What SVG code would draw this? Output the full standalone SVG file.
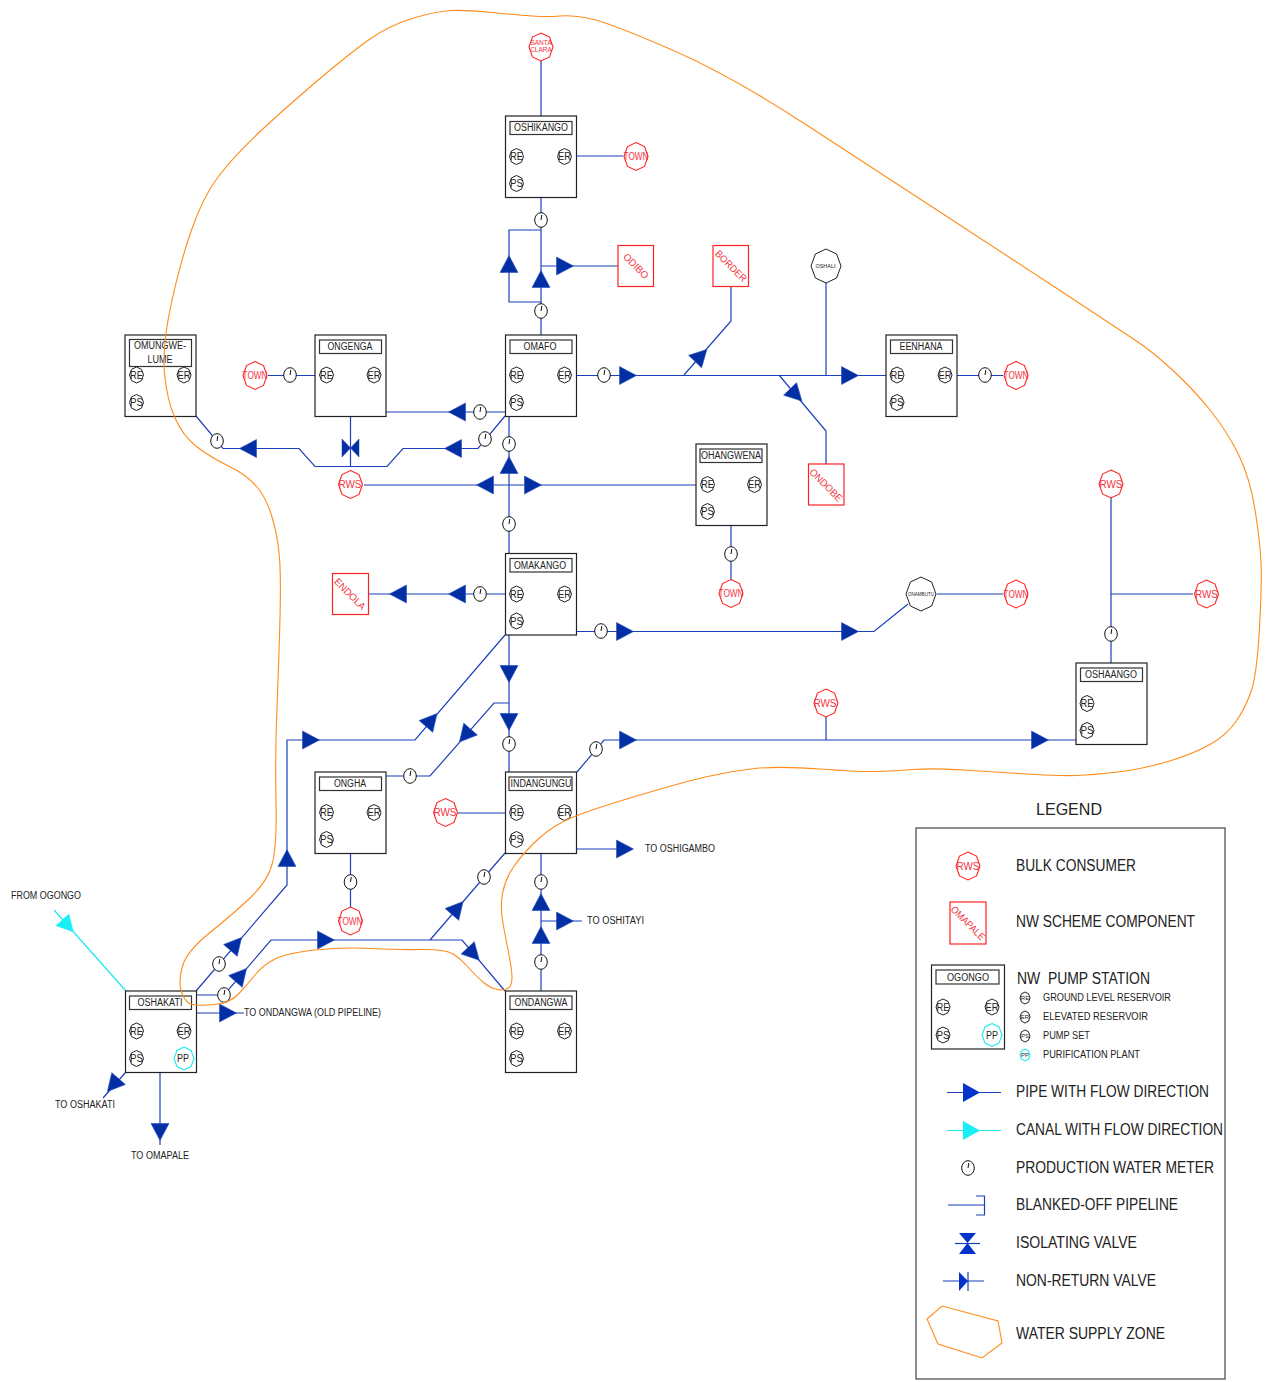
<svg xmlns="http://www.w3.org/2000/svg" xmlns:xlink="http://www.w3.org/1999/xlink" width="1271" height="1382" viewBox="0 0 1271 1382">
<style>
text{font-family:"Liberation Sans",Arial,sans-serif;font-size:10px;fill:#222;text-anchor:middle}
.l{text-anchor:start}
.lg{font-size:16px}
.sm{font-size:10.5px}
.r{fill:#f2333f}
.b{fill:#fff;stroke:#222;stroke-width:1.2}
.t{fill:#fff;stroke:#333;stroke-width:1.2}
.s{fill:none;stroke:#f22;stroke-width:1.2}
.p{fill:none;stroke:#1c3fbb;stroke-width:1.2}
.c{fill:none;stroke:#18e8f0;stroke-width:1.2}
.o{fill:#fff;stroke:#222;stroke-width:1}
.rd{fill:#fff;stroke:#f22;stroke-width:1.1}
.cy{fill:#fff;stroke:#18e8f0;stroke-width:1.1}
.z{fill:none;stroke:#ff8c1a;stroke-width:1.1}
.m{fill:#fff;stroke:#111;stroke-width:1}
</style>
<defs>
<polygon id="h7" points="0,-8 5,-5.6 7,0 5,5.6 0,8 -5,5.6 -7,0 -5,-5.6"/>
<polygon id="h12" points="0,-14 8.5,-9.9 12,0 8.5,9.9 0,14 -8.5,9.9 -12,0 -8.5,-9.9"/>
<polygon id="h10" points="0,-11.500 7,-8.100 10,0 7,8.100 0,11.500 -7,8.100 -10,0 -7,-8.100"/>
<polygon id="h15" points="0,-17 10.600,-12 15,0 10.600,12 0,17 -10.600,12 -15,0 -10.600,-12"/>
<polygon id="h5" points="0,-6 3.500,-4.200 5,0 3.500,4.200 0,6 -3.500,4.200 -5,0 -3.500,-4.200"/>
<polygon id="ar" points="-8.500,-9 8.500,0 -8.500,9" fill="#022fa3" stroke="#2a4fc0" stroke-width="0.6"/>
<polygon id="arc" points="-8.500,-9 8.500,0 -8.500,9" fill="#18f0f5"/>
<g id="mt"><ellipse class="m" rx="6.300" ry="7.300"/><path d="M0,0 L0.800,-5" stroke="#111" stroke-width="1" fill="none"/></g>
</defs>
<g id="connectors">
<path class="p" d="M541,60V116M577,156H623M541,197V335M541,230H509V302H541M541,266H618"/>
<path class="p" d="M731,287V321L684,375M826,283V375M577,375.500H886M779,375L826,431V464M957,375.500H1003M268,375.500H315M386,412H505"/>
<path class="p" d="M505,416L478,448.500H403L387,466.500H315L299,448.500H223L196,416M350.500,416V466M364,485H696M509,416V553M731,526V580M369,594H505"/>
<path class="p" d="M577,631.500H874L908,604M937,594H1003M1111,497V663M1111,594H1193M509,635V772M505,635L415,740H287V885L196,991"/>
<path class="p" d="M509,703H494L430,776H386M577,772L604,740H1076M826,716V740M458,813H505M577,849H632M350.500,853V908"/>
<path class="p" d="M505,853L430,940M196,995H224L271,940H462L505,991M196,1013H244M541,991V853M541,921H582M160,1072V1145M126,1072L103,1098"/>
<path class="c" d="M126,991L54,910"/>
<use xlink:href="#ar" href="#ar" transform="translate(509,264) rotate(-90)"/>
<use xlink:href="#ar" href="#ar" transform="translate(541,279) rotate(-90)"/>
<use xlink:href="#ar" href="#ar" transform="translate(565,266)"/>
<use xlink:href="#ar" href="#ar" transform="translate(701,355.500) rotate(-46)"/>
<use xlink:href="#ar" href="#ar" transform="translate(628,375.500)"/>
<use xlink:href="#ar" href="#ar" transform="translate(850,375.500)"/>
<use xlink:href="#ar" href="#ar" transform="translate(796,395) rotate(46)"/>
<use xlink:href="#ar" href="#ar" transform="translate(457,412) rotate(180)"/>
<use xlink:href="#ar" href="#ar" transform="translate(453,448.500) rotate(180)"/>
<use xlink:href="#ar" href="#ar" transform="translate(248,448.500) rotate(180)"/>
<use xlink:href="#ar" href="#ar" transform="translate(485,485) rotate(180)"/>
<use xlink:href="#ar" href="#ar" transform="translate(533,485)"/>
<use xlink:href="#ar" href="#ar" transform="translate(509,465) rotate(-90)"/>
<use xlink:href="#ar" href="#ar" transform="translate(457,594) rotate(180)"/>
<use xlink:href="#ar" href="#ar" transform="translate(398,594) rotate(180)"/>
<use xlink:href="#ar" href="#ar" transform="translate(625,631.500)"/>
<use xlink:href="#ar" href="#ar" transform="translate(850,631.500)"/>
<use xlink:href="#ar" href="#ar" transform="translate(509,674) rotate(90)"/>
<use xlink:href="#ar" href="#ar" transform="translate(509,722) rotate(90)"/>
<use xlink:href="#ar" href="#ar" transform="translate(431.500,720) rotate(-49)"/>
<use xlink:href="#ar" href="#ar" transform="translate(311,740)"/>
<use xlink:href="#ar" href="#ar" transform="translate(465,735.500) rotate(131)"/>
<use xlink:href="#ar" href="#ar" transform="translate(628,740)"/>
<use xlink:href="#ar" href="#ar" transform="translate(1040,740)"/>
<use xlink:href="#ar" href="#ar" transform="translate(625,849)"/>
<use xlink:href="#ar" href="#ar" transform="translate(457.500,908) rotate(-49)"/>
<use xlink:href="#ar" href="#ar" transform="translate(287,858) rotate(-90)"/>
<use xlink:href="#ar" href="#ar" transform="translate(236,944) rotate(-49)"/>
<use xlink:href="#ar" href="#ar" transform="translate(241,975) rotate(-49)"/>
<use xlink:href="#ar" href="#ar" transform="translate(326,940)"/>
<use xlink:href="#ar" href="#ar" transform="translate(473.500,954) rotate(47)"/>
<use xlink:href="#ar" href="#ar" transform="translate(228,1013)"/>
<use xlink:href="#ar" href="#ar" transform="translate(541,935) rotate(-90)"/>
<use xlink:href="#ar" href="#ar" transform="translate(541,902) rotate(-90)"/>
<use xlink:href="#ar" href="#ar" transform="translate(565,921)"/>
<use xlink:href="#ar" href="#ar" transform="translate(160,1132) rotate(90)"/>
<use xlink:href="#ar" href="#ar" transform="translate(113,1085) rotate(131)"/>
<use xlink:href="#arc" href="#arc" transform="translate(68,926) rotate(48)"/>
<g id="valve"><polygon points="342,439 350.500,448 342,457" fill="#022fa3" stroke="#2a4fc0" stroke-width="0.6"/><polygon points="359,439 350.500,448 359,457" fill="#022fa3" stroke="#2a4fc0" stroke-width="0.6"/></g>
<use xlink:href="#mt" href="#mt" x="541" y="220"/>
<use xlink:href="#mt" href="#mt" x="541" y="311"/>
<use xlink:href="#mt" href="#mt" x="604" y="375"/>
<use xlink:href="#mt" href="#mt" x="985" y="375"/>
<use xlink:href="#mt" href="#mt" x="290" y="375"/>
<use xlink:href="#mt" href="#mt" x="480" y="412"/>
<use xlink:href="#mt" href="#mt" x="485" y="439"/>
<use xlink:href="#mt" href="#mt" x="217" y="441"/>
<use xlink:href="#mt" href="#mt" x="509" y="444"/>
<use xlink:href="#mt" href="#mt" x="509" y="524"/>
<use xlink:href="#mt" href="#mt" x="731" y="554"/>
<use xlink:href="#mt" href="#mt" x="480" y="594"/>
<use xlink:href="#mt" href="#mt" x="601" y="631"/>
<use xlink:href="#mt" href="#mt" x="1111" y="634"/>
<use xlink:href="#mt" href="#mt" x="509" y="744"/>
<use xlink:href="#mt" href="#mt" x="596" y="749"/>
<use xlink:href="#mt" href="#mt" x="410" y="776"/>
<use xlink:href="#mt" href="#mt" x="484" y="877"/>
<use xlink:href="#mt" href="#mt" x="350.500" y="882"/>
<use xlink:href="#mt" href="#mt" x="541" y="882"/>
<use xlink:href="#mt" href="#mt" x="541" y="962"/>
<use xlink:href="#mt" href="#mt" x="219" y="964"/>
<use xlink:href="#mt" href="#mt" x="224" y="995"/>
</g>
<g id="node-oshikango"><rect class="b" x="505.500" y="116" width="71" height="81.500"/><rect class="t" x="510" y="121.500" width="62" height="13"/><text x="541" y="131" textLength="54" lengthAdjust="spacingAndGlyphs">OSHIKANGO</text><use href="#h7" class="o" x="516.500" y="156.500"/><text x="516.500" y="160" textLength="13" lengthAdjust="spacingAndGlyphs">RE</text><use href="#h7" class="o" x="564.500" y="156.500"/><text x="564.500" y="160" textLength="13" lengthAdjust="spacingAndGlyphs">ER</text><use href="#h7" class="o" x="516.500" y="183.500"/><text x="516.500" y="187" textLength="13" lengthAdjust="spacingAndGlyphs">PS</text></g>
<g id="node-omafo"><rect class="b" x="505.500" y="335" width="71" height="81.500"/><rect class="t" x="510" y="340" width="62" height="13.500"/><text x="540" y="350" textLength="33" lengthAdjust="spacingAndGlyphs">OMAFO</text><use href="#h7" class="o" x="516.500" y="375"/><text x="516.500" y="378.500" textLength="13" lengthAdjust="spacingAndGlyphs">RE</text><use href="#h7" class="o" x="564.500" y="375"/><text x="564.500" y="378.500" textLength="13" lengthAdjust="spacingAndGlyphs">ER</text><use href="#h7" class="o" x="516.500" y="402.500"/><text x="516.500" y="406" textLength="13" lengthAdjust="spacingAndGlyphs">PS</text></g>
<g id="node-omungwe"><rect class="b" x="125" y="335" width="71" height="81.500"/><rect class="t" x="129.500" y="339.500" width="62" height="27"/><text x="160" y="349" textLength="52" lengthAdjust="spacingAndGlyphs">OMUNGWE-</text><text x="160" y="363" textLength="25" lengthAdjust="spacingAndGlyphs">LUME</text><use href="#h7" class="o" x="136.500" y="375"/><text x="136.500" y="378.500" textLength="13" lengthAdjust="spacingAndGlyphs">RE</text><use href="#h7" class="o" x="184" y="375"/><text x="184" y="378.500" textLength="13" lengthAdjust="spacingAndGlyphs">ER</text><use href="#h7" class="o" x="136.500" y="402.500"/><text x="136.500" y="406" textLength="13" lengthAdjust="spacingAndGlyphs">PS</text></g>
<g id="node-ongenga"><rect class="b" x="315" y="335" width="71" height="81.500"/><rect class="t" x="319.500" y="340" width="62" height="13.500"/><text x="350" y="350" textLength="45" lengthAdjust="spacingAndGlyphs">ONGENGA</text><use href="#h7" class="o" x="326.500" y="375"/><text x="326.500" y="378.500" textLength="13" lengthAdjust="spacingAndGlyphs">RE</text><use href="#h7" class="o" x="374" y="375"/><text x="374" y="378.500" textLength="13" lengthAdjust="spacingAndGlyphs">ER</text></g>
<g id="node-eenhana"><rect class="b" x="886" y="335" width="71" height="81.500"/><rect class="t" x="890.500" y="340" width="62" height="13.500"/><text x="921" y="350" textLength="43" lengthAdjust="spacingAndGlyphs">EENHANA</text><use href="#h7" class="o" x="897" y="375"/><text x="897" y="378.500" textLength="13" lengthAdjust="spacingAndGlyphs">RE</text><use href="#h7" class="o" x="945" y="375"/><text x="945" y="378.500" textLength="13" lengthAdjust="spacingAndGlyphs">ER</text><use href="#h7" class="o" x="897" y="402.500"/><text x="897" y="406" textLength="13" lengthAdjust="spacingAndGlyphs">PS</text></g>
<g id="node-ohangwena"><rect class="b" x="696" y="444" width="71" height="81.500"/><rect class="t" x="700" y="449" width="62" height="13.500"/><text x="731" y="459" textLength="60" lengthAdjust="spacingAndGlyphs">OHANGWENA</text><use href="#h7" class="o" x="707.500" y="484.500"/><text x="707.500" y="488" textLength="13" lengthAdjust="spacingAndGlyphs">RE</text><use href="#h7" class="o" x="754.500" y="484.500"/><text x="754.500" y="488" textLength="13" lengthAdjust="spacingAndGlyphs">ER</text><use href="#h7" class="o" x="707.500" y="511.500"/><text x="707.500" y="515" textLength="13" lengthAdjust="spacingAndGlyphs">PS</text></g>
<g id="node-omakango"><rect class="b" x="505.500" y="553.500" width="71" height="81.500"/><rect class="t" x="510" y="558.500" width="62" height="13.500"/><text x="540" y="569" textLength="52" lengthAdjust="spacingAndGlyphs">OMAKANGO</text><use href="#h7" class="o" x="516.500" y="594"/><text x="516.500" y="597.500" textLength="13" lengthAdjust="spacingAndGlyphs">RE</text><use href="#h7" class="o" x="564.500" y="594"/><text x="564.500" y="597.500" textLength="13" lengthAdjust="spacingAndGlyphs">ER</text><use href="#h7" class="o" x="516.500" y="621"/><text x="516.500" y="624.500" textLength="13" lengthAdjust="spacingAndGlyphs">PS</text></g>
<g id="node-oshaango"><rect class="b" x="1076" y="663" width="71" height="81.500"/><rect class="t" x="1080.500" y="668" width="62" height="13.500"/><text x="1111" y="678" textLength="52" lengthAdjust="spacingAndGlyphs">OSHAANGO</text><use href="#h7" class="o" x="1087" y="703.500"/><text x="1087" y="707" textLength="13" lengthAdjust="spacingAndGlyphs">RE</text><use href="#h7" class="o" x="1087" y="730.500"/><text x="1087" y="734" textLength="13" lengthAdjust="spacingAndGlyphs">PS</text></g>
<g id="node-ongha"><rect class="b" x="315" y="772" width="71" height="81.500"/><rect class="t" x="319.500" y="777" width="62" height="13.500"/><text x="350" y="787" textLength="32" lengthAdjust="spacingAndGlyphs">ONGHA</text><use href="#h7" class="o" x="326.500" y="812.500"/><text x="326.500" y="816" textLength="13" lengthAdjust="spacingAndGlyphs">RE</text><use href="#h7" class="o" x="374" y="812.500"/><text x="374" y="816" textLength="13" lengthAdjust="spacingAndGlyphs">ER</text><use href="#h7" class="o" x="326.500" y="839.500"/><text x="326.500" y="843" textLength="13" lengthAdjust="spacingAndGlyphs">PS</text></g>
<g id="node-indangungu"><rect class="b" x="505.500" y="772" width="71" height="81.500"/><rect class="t" x="509" y="777" width="63" height="13.500"/><text x="541" y="787" textLength="61" lengthAdjust="spacingAndGlyphs">INDANGUNGU</text><use href="#h7" class="o" x="516.500" y="812.500"/><text x="516.500" y="816" textLength="13" lengthAdjust="spacingAndGlyphs">RE</text><use href="#h7" class="o" x="564.500" y="812.500"/><text x="564.500" y="816" textLength="13" lengthAdjust="spacingAndGlyphs">ER</text><use href="#h7" class="o" x="516.500" y="839.500"/><text x="516.500" y="843" textLength="13" lengthAdjust="spacingAndGlyphs">PS</text></g>
<g id="node-oshakati"><rect class="b" x="125.500" y="991" width="71" height="81.500"/><rect class="t" x="129.500" y="996" width="62" height="13.500"/><text x="160" y="1006" textLength="45" lengthAdjust="spacingAndGlyphs">OSHAKATI</text><use href="#h7" class="o" x="136.500" y="1031"/><text x="136.500" y="1034.500" textLength="13" lengthAdjust="spacingAndGlyphs">RE</text><use href="#h7" class="o" x="184" y="1031"/><text x="184" y="1034.500" textLength="13" lengthAdjust="spacingAndGlyphs">ER</text><use href="#h7" class="o" x="136.500" y="1058.500"/><text x="136.500" y="1062" textLength="13" lengthAdjust="spacingAndGlyphs">PS</text><use href="#h10" class="cy" x="184" y="1058.500"/><text x="183" y="1062" textLength="12" lengthAdjust="spacingAndGlyphs">PP</text></g>
<g id="node-ondangwa"><rect class="b" x="505.500" y="991" width="71" height="81.500"/><rect class="t" x="510" y="996" width="62" height="13.500"/><text x="541" y="1006" textLength="53" lengthAdjust="spacingAndGlyphs">ONDANGWA</text><use href="#h7" class="o" x="516.500" y="1031"/><text x="516.500" y="1034.500" textLength="13" lengthAdjust="spacingAndGlyphs">RE</text><use href="#h7" class="o" x="564.500" y="1031"/><text x="564.500" y="1034.500" textLength="13" lengthAdjust="spacingAndGlyphs">ER</text><use href="#h7" class="o" x="516.500" y="1058.500"/><text x="516.500" y="1062" textLength="13" lengthAdjust="spacingAndGlyphs">PS</text></g>
<g id="node-santa-clara"><use href="#h12" class="rd" x="541" y="47"/><text class="r" style="font-size:6.500px" x="541" y="45">SANTA</text><text class="r" style="font-size:6.500px" x="541" y="52">CLARA</text></g>
<g id="node-town1"><use href="#h12" class="rd" x="636" y="156.500"/><text class="r" x="636" y="160" textLength="25" lengthAdjust="spacingAndGlyphs">TOWN</text></g>
<g id="node-town2"><use href="#h12" class="rd" x="255" y="375.500"/><text class="r" x="255" y="379" textLength="25" lengthAdjust="spacingAndGlyphs">TOWN</text></g>
<g id="node-town3"><use href="#h12" class="rd" x="1016" y="375.500"/><text class="r" x="1016" y="379" textLength="25" lengthAdjust="spacingAndGlyphs">TOWN</text></g>
<g id="node-town4"><use href="#h12" class="rd" x="731" y="593.500"/><text class="r" x="731" y="597" textLength="25" lengthAdjust="spacingAndGlyphs">TOWN</text></g>
<g id="node-town5"><use href="#h12" class="rd" x="1016" y="594"/><text class="r" x="1016" y="597.500" textLength="25" lengthAdjust="spacingAndGlyphs">TOWN</text></g>
<g id="node-town6"><use href="#h12" class="rd" x="350.500" y="921"/><text class="r" x="350" y="924.500" textLength="25" lengthAdjust="spacingAndGlyphs">TOWN</text></g>
<g id="node-rws1"><use href="#h12" class="rd" x="350.500" y="484.500"/><text class="r" x="350" y="487.500" textLength="23" lengthAdjust="spacingAndGlyphs">RWS</text></g>
<g id="node-rws2"><use href="#h12" class="rd" x="1111" y="484"/><text class="r" x="1111" y="487.500" textLength="23" lengthAdjust="spacingAndGlyphs">RWS</text></g>
<g id="node-rws3"><use href="#h12" class="rd" x="1206.500" y="594"/><text class="r" x="1206.500" y="597.500" textLength="23" lengthAdjust="spacingAndGlyphs">RWS</text></g>
<g id="node-rws4"><use href="#h12" class="rd" x="826" y="703"/><text class="r" x="825" y="706.500" textLength="23" lengthAdjust="spacingAndGlyphs">RWS</text></g>
<g id="node-rws5"><use href="#h12" class="rd" x="445.500" y="812.500"/><text class="r" x="445" y="816" textLength="23" lengthAdjust="spacingAndGlyphs">RWS</text></g>
<g id="node-oshali"><use href="#h15" class="o" x="826" y="266"/><text style="font-size:5.500px" x="825.500" y="268">OSHALI</text></g>
<g id="node-onambutu"><use href="#h15" class="o" x="921" y="594"/><text style="font-size:5px" x="921" y="596" textLength="26" lengthAdjust="spacingAndGlyphs">ONAMBUTU</text></g>
<g id="node-odibo"><rect class="s" x="618" y="245.500" width="35.500" height="41"/><text class="r" transform="translate(636,266) rotate(45)" y="3.500" textLength="31" lengthAdjust="spacingAndGlyphs">ODIBO</text></g>
<g id="node-border"><rect class="s" x="713" y="245.500" width="35.500" height="41"/><text class="r" transform="translate(731,266) rotate(45)" y="3.500" textLength="40" lengthAdjust="spacingAndGlyphs">BORDER</text></g>
<g id="node-ondobe"><rect class="s" x="808.500" y="464" width="35.500" height="41"/><text class="r" transform="translate(826,485) rotate(45)" y="3.500" textLength="42" lengthAdjust="spacingAndGlyphs">ONDOBE</text></g>
<g id="node-endola"><rect class="s" x="332.500" y="573.500" width="36" height="41"/><text class="r" transform="translate(350,594) rotate(45)" y="3.500" textLength="40" lengthAdjust="spacingAndGlyphs">ENDOLA</text></g>
<g id="labels">
<text class="l" x="645" y="852" textLength="70" lengthAdjust="spacingAndGlyphs">TO OSHIGAMBO</text>
<text class="l" x="587" y="924" textLength="57" lengthAdjust="spacingAndGlyphs">TO OSHITAYI</text>
<text class="l" x="244" y="1016" textLength="137" lengthAdjust="spacingAndGlyphs">TO ONDANGWA (OLD PIPELINE)</text>
<text class="l" x="11" y="899" textLength="70" lengthAdjust="spacingAndGlyphs">FROM OGONGO</text>
<text class="l" x="55" y="1108" textLength="60" lengthAdjust="spacingAndGlyphs">TO OSHAKATI</text>
<text x="160" y="1159" textLength="58" lengthAdjust="spacingAndGlyphs">TO OMAPALE</text>
</g>
<path id="water-supply-zone" class="z" d="M413.500,18 Q437,11 452,10.500 Q467,10 492,12.500 Q517,15 532,16 Q547,17 560,16 Q573,15 591.500,19 Q610,23 670,49 Q730,75 805,124 Q880,173 940,212 Q1000,251 1060,290.500 Q1120,330 1136.500,341 Q1153,352 1173,370.500 Q1193,389 1210,410 Q1227,431 1238.500,454.500 Q1250,478 1255,509.500 Q1260,541 1261,562 Q1262,583 1259.500,627.500 Q1257,672 1252,688.500 Q1247,705 1237,720 Q1227,735 1210,744.500 Q1193,754 1168,761.500 Q1143,769 1118,772 Q1093,775 1076.500,775.500 Q1060,776 1026.500,774 Q993,772 963,770 Q933,768 913,769.500 Q893,771 876.500,771.500 Q860,772 820,769 Q780,766 755,768.500 Q730,771 705,777 Q680,783 630,798 Q580,813 563.500,821.500 Q547,830 533.500,843.500 Q520,857 512.500,868.500 Q505,880 502.500,893.500 Q500,907 503,923.500 Q506,940 509,955 Q512,970 512,977.500 Q512,985 508.500,988 Q505,991 497.500,989.500 Q490,988 483.500,982.500 Q477,977 467,966 Q457,955 448.500,952 Q440,949 420,949.500 Q400,950 371.500,948.500 Q343,947 315,950 Q287,953 275,959 Q263,965 255,975 Q247,985 238.500,994 Q230,1003 215,1004.500 Q200,1006 192.500,1004.500 Q185,1003 181.500,992 Q178,981 182.500,966 Q187,951 210,932.500 Q233,914 250,898 Q267,882 272,864.500 Q277,847 276,801.500 Q275,756 277,706.500 Q279,657 280,617.500 Q281,578 279.500,558 Q278,538 272.500,518.500 Q267,499 257,487 Q247,475 228.500,466 Q210,457 196.500,446.500 Q183,436 175,418 Q167,400 164.500,373.500 Q162,347 171,305 Q180,263 191.500,230 Q203,197 218,177 Q233,157 258,133.500 Q283,110 316.500,81.500 Q350,53 370,39 Q390,25 413.500,18 Z"/>
<g id="legend">
<rect x="916" y="828" width="309" height="551" fill="none" stroke="#444" stroke-width="1.200"/>
<text x="1069" y="815" style="font-size:17px" textLength="66" lengthAdjust="spacingAndGlyphs">LEGEND</text>
<use href="#h12" class="rd" x="968" y="866"/><text class="r" x="968" y="869.500" textLength="23" lengthAdjust="spacingAndGlyphs">RWS</text>
<rect class="s" x="950" y="902" width="36" height="42"/><text class="r" transform="translate(968,923) rotate(45)" y="3.500" textLength="44" lengthAdjust="spacingAndGlyphs">OMAPALE</text>
<rect class="b" x="931.500" y="965" width="73" height="84"/><rect class="t" x="936" y="970" width="63" height="14"/><text x="968" y="981" textLength="42" lengthAdjust="spacingAndGlyphs">OGONGO</text>
<use href="#h7" class="o" x="943" y="1007"/><text x="943" y="1010.500" textLength="13" lengthAdjust="spacingAndGlyphs">RE</text>
<use href="#h7" class="o" x="992" y="1007"/><text x="992" y="1010.500" textLength="13" lengthAdjust="spacingAndGlyphs">ER</text>
<use href="#h7" class="o" x="943" y="1035"/><text x="943" y="1038.500" textLength="13" lengthAdjust="spacingAndGlyphs">PS</text>
<use href="#h10" class="cy" x="992" y="1035"/><text x="992" y="1038.500" textLength="12" lengthAdjust="spacingAndGlyphs">PP</text>
<use href="#h5" class="o" x="1025" y="998"/><text style="font-size:6px" x="1025" y="1000">RE</text>
<use href="#h5" class="o" x="1025" y="1017"/><text style="font-size:6px" x="1025" y="1019">ER</text>
<use href="#h5" class="o" x="1025" y="1036"/><text style="font-size:6px" x="1025" y="1038">PS</text>
<use href="#h5" class="cy" x="1025" y="1055"/><text style="font-size:6px" x="1025" y="1057">PP</text>
<text class="l lg" x="1017" y="984" textLength="133" lengthAdjust="spacingAndGlyphs" xml:space="preserve">NW  PUMP STATION</text>
<text class="l sm" x="1043" y="1001" textLength="128" lengthAdjust="spacingAndGlyphs">GROUND LEVEL RESERVOIR</text>
<text class="l sm" x="1043" y="1020" textLength="105" lengthAdjust="spacingAndGlyphs">ELEVATED RESERVOIR</text>
<text class="l sm" x="1043" y="1039" textLength="47" lengthAdjust="spacingAndGlyphs">PUMP SET</text>
<text class="l sm" x="1043" y="1058" textLength="97" lengthAdjust="spacingAndGlyphs">PURIFICATION PLANT</text>
<text class="l lg" x="1016" y="871" textLength="120" lengthAdjust="spacingAndGlyphs">BULK CONSUMER</text>
<text class="l lg" x="1016" y="927" textLength="179" lengthAdjust="spacingAndGlyphs">NW SCHEME COMPONENT</text>
<text class="l lg" x="1016" y="1097" textLength="193" lengthAdjust="spacingAndGlyphs">PIPE WITH FLOW DIRECTION</text>
<text class="l lg" x="1016" y="1135" textLength="207" lengthAdjust="spacingAndGlyphs">CANAL WITH FLOW DIRECTION</text>
<text class="l lg" x="1016" y="1173" textLength="198" lengthAdjust="spacingAndGlyphs">PRODUCTION WATER METER</text>
<text class="l lg" x="1016" y="1210" textLength="162" lengthAdjust="spacingAndGlyphs">BLANKED-OFF PIPELINE</text>
<text class="l lg" x="1016" y="1248" textLength="121" lengthAdjust="spacingAndGlyphs">ISOLATING VALVE</text>
<text class="l lg" x="1016" y="1286" textLength="140" lengthAdjust="spacingAndGlyphs">NON-RETURN VALVE</text>
<text class="l lg" x="1016" y="1339" textLength="149" lengthAdjust="spacingAndGlyphs">WATER SUPPLY ZONE</text>
<path class="p" d="M947,1092.500H1001"/><polygon points="963,1083 980,1092.500 963,1102" fill="#0333c8"/>
<path class="c" d="M947,1130.500H1001"/><polygon points="963,1121 980,1130.500 963,1140" fill="#18f0f5"/>
<use href="#mt" x="968" y="1168"/>
<path class="p" d="M948,1205H984M976,1196H984.500V1215H976"/>
<path class="p" d="M955,1243.500H980"/><polygon points="959,1233 976,1233 967.500,1243 976,1254 959,1254 967.500,1243" fill="#0333c8"/>
<path class="p" d="M943,1281H984M968,1272V1291"/><polygon points="959,1272 968,1281 959,1291" fill="#0333c8"/>
<polygon class="z" points="927,1319 942,1306 998,1321 1002,1343 982,1358 938,1344"/>
</g>
</svg>
